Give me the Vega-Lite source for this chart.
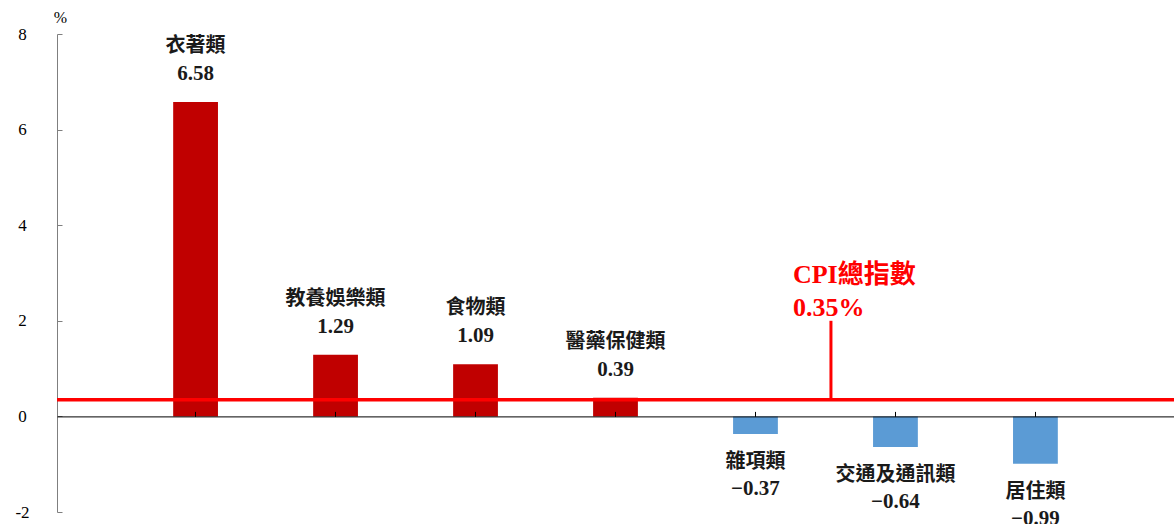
{
  "$schema": "https://vega.github.io/schema/vega-lite/v6.json",
  "width": 1117,
  "height": 478,
  "autosize": {"type": "none"},
  "padding": {"left": 57, "top": 34, "right": 0, "bottom": 12},
  "background": "white",
  "config": {"view": {"stroke": null}},
  "data": {
    "values": [
      {"cat": "衣著類", "value": 6.58},
      {"cat": "教養娛樂類", "value": 1.29},
      {"cat": "食物類", "value": 1.09},
      {"cat": "醫藥保健類", "value": 0.39},
      {"cat": "雜項類", "value": -0.37},
      {"cat": "交通及通訊類", "value": -0.64},
      {"cat": "居住類", "value": -0.99}
    ]
  },
  "encoding": {
    "x": {
      "field": "cat",
      "type": "nominal",
      "sort": null,
      "scale": {"paddingInner": 0.68, "paddingOuter": 0.83},
      "axis": {
        "title": null,
        "labels": false,
        "orient": "bottom",
        "offset": -95.6,
        "tickSize": -5,
        "tickColor": "#000000",
        "domainColor": "#000000",
        "domainWidth": 1,
        "zindex": 1
      }
    },
    "y": {
      "field": "value",
      "type": "quantitative",
      "scale": {"domain": [-2, 8], "nice": false, "zero": false},
      "axis": {
        "values": [-2, 0, 2, 4, 6, 8],
        "grid": false,
        "tickSize": -5,
        "labelPadding": 40,
        "labelExpr": "'' + datum.value",
        "labelFont": "Liberation Serif",
        "labelFontSize": 17,
        "labelColor": "#000000",
        "labelAlign": "center",
        "domainColor": "#7f7f7f",
        "tickColor": "#7f7f7f",
        "title": "%",
        "titleAngle": 0,
        "titleX": 3,
        "titleY": -17,
        "titleAlign": "center",
        "titleBaseline": "middle",
        "titleFont": "Liberation Serif",
        "titleFontSize": 16,
        "titleFontWeight": "normal",
        "titleColor": "#000000"
      }
    }
  },
  "layer": [
    {
      "mark": {"type": "bar"},
      "encoding": {
        "color": {
          "condition": {"test": "datum.value > 0", "value": "#C00000"},
          "value": "#5B9BD5"
        }
      }
    },
    {
      "transform": [{"filter": "datum.value > 0"}],
      "mark": {"type": "text", "dy": -56, "baseline": "middle", "font": "Noto Sans CJK TC", "fontSize": 20, "fontWeight": "bold", "color": "#1a1a1a"},
      "encoding": {"text": {"field": "cat"}}
    },
    {
      "transform": [{"filter": "datum.value > 0"}],
      "mark": {"type": "text", "dy": -28, "baseline": "middle", "font": "Liberation Serif", "fontSize": 21, "fontWeight": "bold", "color": "#1a1a1a"},
      "encoding": {"text": {"field": "value", "format": ".2f"}}
    },
    {
      "transform": [{"filter": "datum.value < 0"}],
      "mark": {"type": "text", "dy": 28, "baseline": "middle", "font": "Noto Sans CJK TC", "fontSize": 20, "fontWeight": "bold", "color": "#1a1a1a"},
      "encoding": {"text": {"field": "cat"}}
    },
    {
      "transform": [{"filter": "datum.value < 0"}],
      "mark": {"type": "text", "dy": 55, "baseline": "middle", "font": "Liberation Serif", "fontSize": 21, "fontWeight": "bold", "color": "#1a1a1a"},
      "encoding": {"text": {"field": "value", "format": ".2f"}}
    },
    {
      "data": {"values": [{"cpi": 0.35}]},
      "mark": {"type": "rule", "color": "#FF0000", "strokeWidth": 3.5},
      "encoding": {
        "x": null,
        "y": {"field": "cpi", "type": "quantitative"}
      }
    },
    {
      "data": {"values": [{"cat": "交通及通訊類", "lo": 0.35, "hi": 2.0}]},
      "mark": {"type": "rule", "color": "#FF0000", "strokeWidth": 3},
      "encoding": {
        "x": {"field": "cat", "type": "nominal", "bandPosition": -0.94},
        "y": {"field": "lo", "type": "quantitative"},
        "y2": {"field": "hi"}
      }
    },
    {
      "data": {"values": [{"cat": "交通及通訊類", "pos": 2.96, "label": "CPI總指數"}, {"cat": "交通及通訊類", "pos": 2.27, "label": "0.35%"}]},
      "mark": {"type": "text", "align": "left", "baseline": "middle", "dx": -38, "font": "Liberation Serif, Noto Sans CJK TC", "fontSize": 26, "fontWeight": "bold", "color": "#FF0000"},
      "encoding": {
        "x": {"field": "cat", "type": "nominal", "bandPosition": -0.94},
        "y": {"field": "pos", "type": "quantitative"},
        "text": {"field": "label"}
      }
    }
  ]
}
